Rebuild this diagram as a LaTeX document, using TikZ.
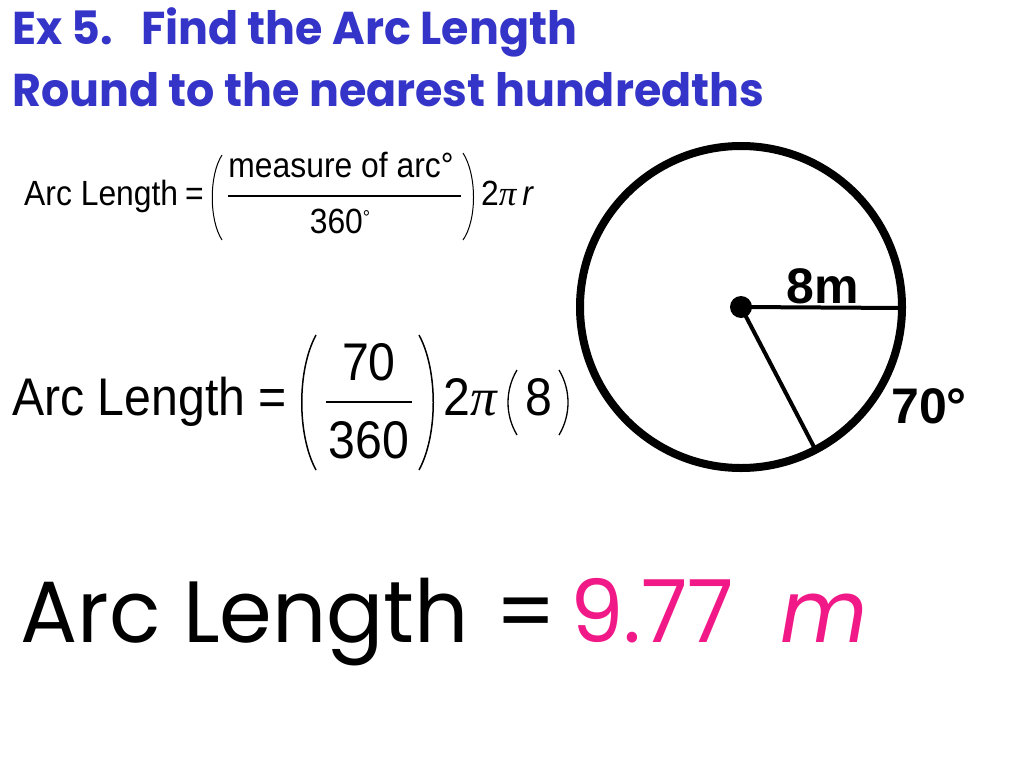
\documentclass[tikz,border=0pt]{standalone}
\usepackage{fontspec}
\setmainfont{Liberation Sans}
\newfontfamily\arialnarrow[FakeStretch=0.91]{Liberation Sans}
\newfontfamily\pifont{Liberation Serif}
\newfontfamily\headfont[FakeStretch=0.965]{Poppins}
\newfontfamily\gothicfont[FakeStretch=0.975]{Poppins}
\definecolor{headblue}{RGB}{52,52,200}
\definecolor{answerpink}{RGB}{240,25,135}
\newcommand{\piit}{{\pifont\itshape π}}
\newcommand{\smalldeg}{\raisebox{9pt}{\fontsize{20}{20}\selectfont °}}

\begin{document}
\begin{tikzpicture}[x=1pt,y=-1pt,
    txt/.style={inner sep=0pt,anchor=base west},
    mid/.style={inner sep=0pt,anchor=base},
    heading/.style={txt,text=headblue,font=\headfont\bfseries\fontsize{46}{50}\selectfont},
    smallf/.style={font=\arialnarrow\fontsize{35}{40}\selectfont},
    bigf/.style={font=\arialnarrow\fontsize{53}{60}\selectfont},
    boldlbl/.style={txt,font=\bfseries\fontsize{50}{56}\selectfont},
    answer/.style={txt,font=\gothicfont\fontsize{87}{96}\selectfont}]
    \useasboundingbox (0,0) rectangle (1024,768);

    \node [heading] (t1) at (12,45) {Ex 5.\hspace{28pt}Find the Arc Length};
    \node [heading] (t2) at (12,106) {Round to the nearest hundredths};

    % formula
    \node [txt,smallf] (al1) at (24,205) {Arc Length};
    \node [txt,smallf] (eq1) at (185,205) {=};
    \node [mid,smallf] (num1) at (341,177) {measure of arc°};
    \node [mid,smallf] (den1) at (340,233) {360\smalldeg};
    \node [txt,smallf] (tpr) at (481,205) {2\piit\,\textit{r}};
    \draw [line width=1.2pt] (228,196) -- (461,196);
    \draw [line width=1pt] (222,155) .. controls (209,175) and (209,220) .. (222,240);
    \draw [line width=1pt] (463,153) .. controls (477,175) and (477,220) .. (463,240);

    % with values
    \node [txt,bigf] (al2) at (12,415) {Arc Length};
    \node [txt,bigf] (eq2) at (258,415) {=};
    \node [mid,bigf] (num2) at (369,380) {70};
    \node [mid,bigf] (den2) at (369,458) {360};
    \node [txt,bigf] (two) at (443,415) {2\piit};
    \node [txt,bigf] (eight) at (525,415) {8};
    \draw [line width=1.8pt] (326,402) -- (412,402);
    \draw [line width=1.5pt] (316,335) .. controls (297,370) and (297,435) .. (316,470);
    \draw [line width=1.5pt] (419,335) .. controls (438,370) and (438,435) .. (419,470);
    \draw [line width=1.3pt] (517,370) .. controls (505,390) and (505,415) .. (517,435);
    \draw [line width=1.3pt] (559,370) .. controls (571,390) and (571,415) .. (559,435);

    % circle
    \coordinate (O) at (741,307);
    \coordinate (A) at (902,308);
    \coordinate (B) at (814,447);
    \draw [line width=8pt] (O) circle [radius=161];
    \draw [line width=4pt] (O) -- (A);
    \draw [line width=4pt] (O) -- (B);
    \node [circle,fill,inner sep=0pt,minimum size=22pt] (dot) at (O) {};
    \node [boldlbl] (rlbl) at (786,303) {8m};
    \node [boldlbl] (albl) at (891,423) {70°};

    % answer
    \node [answer] (al3) at (20,642) {Arc Length};
    \node [answer] (eq3) at (495,642) {=};
    \node [answer,text=answerpink] (val) at (570,642) {9.77};
    \node [answer,text=answerpink,font=\gothicfont\itshape\fontsize{87}{96}\selectfont] (unit) at (780,642) {m};
\end{tikzpicture}
\end{document}
